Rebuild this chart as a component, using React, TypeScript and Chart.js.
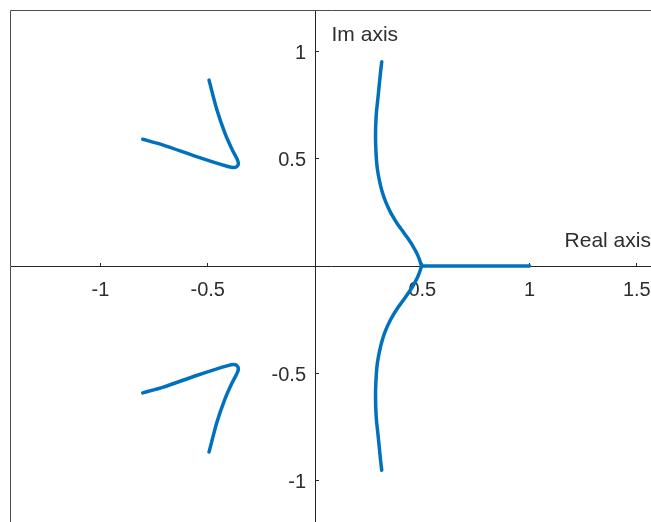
import { useEffect, useRef } from "react";
import { Chart, registerables } from "chart.js";

Chart.register(...registerables);

// Tick values shown on the axes (zero is left unlabeled)
const X_TICKS = [-1, -0.5, 0.5, 1, 1.5];
const Y_TICKS = [-1, -0.5, 0.5, 1];

// Visible window of the s-plane
const X_MIN = -1.417;
const X_MAX = 1.566;
const Y_MIN = -1.193;
const Y_MAX = 1.189;

// Branch on the real axis, from the pole at 1 to the break-away point
const realAxisX = [1.0, 0.497];
const realAxisY = [0, 0];

// Branch leaving the break-away point upward
const upperRightX = [0.497, 0.479, 0.452, 0.418, 0.382, 0.352, 0.329, 0.312, 0.3, 0.291, 0.286, 0.282, 0.285, 0.295, 0.305, 0.311];
const upperRightY = [0, 0.05, 0.1, 0.15, 0.2, 0.25, 0.3, 0.35, 0.4, 0.45, 0.5, 0.6, 0.7, 0.8, 0.9, 0.952];

// Branch leaving the break-away point downward
const lowerRightX = [0.497, 0.479, 0.452, 0.418, 0.382, 0.352, 0.329, 0.312, 0.3, 0.291, 0.286, 0.282, 0.285, 0.295, 0.305, 0.311];
const lowerRightY = [0, -0.05, -0.1, -0.15, -0.2, -0.25, -0.3, -0.35, -0.4, -0.45, -0.5, -0.6, -0.7, -0.8, -0.9, -0.952];

// Complex branch in the upper-left quadrant
const upperLeftX = [-0.494, -0.457, -0.42, -0.387, -0.361, -0.358, -0.371, -0.406, -0.552, -0.707, -0.803];
const upperLeftY = [0.867, 0.727, 0.62, 0.545, 0.494, 0.473, 0.46, 0.464, 0.51, 0.564, 0.591];

// Complex branch in the lower-left quadrant
const lowerLeftX = [-0.494, -0.457, -0.42, -0.387, -0.361, -0.358, -0.371, -0.406, -0.552, -0.707, -0.803];
const lowerLeftY = [-0.867, -0.727, -0.62, -0.545, -0.494, -0.473, -0.46, -0.464, -0.51, -0.564, -0.591];

const LOCUS_COLOR = "#0072BD";
const AXIS_COLOR = "#262626";
const TEXT_COLOR = "#2e2e2e";
const FONT_FAMILY = "'Liberation Sans', Arial, Helvetica, sans-serif";

const toPoints = (xs: number[], ys: number[]) => xs.map((x, i) => ({ x, y: ys[i] }));

const branch = (xs: number[], ys: number[], tension: number) => ({
  data: toPoints(xs, ys),
  showLine: true,
  borderColor: LOCUS_COLOR,
  borderWidth: 3.5,
  pointRadius: 0,
  pointHoverRadius: 0,
  tension,
  borderCapStyle: "round" as const,
  borderJoinStyle: "round" as const,
});

// Axes through the origin should not reserve room for their labels
const noEdgePadding = (s: any) => {
  s.paddingLeft = 0;
  s.paddingRight = 0;
  s.paddingTop = 0;
  s.paddingBottom = 0;
};

// Box around the axes and the two axis captions
const decorations = {
  id: "locusDecorations",
  beforeDraw(chart: any) {
    const { ctx, chartArea } = chart;
    ctx.save();
    ctx.strokeStyle = "#4d4d4d";
    ctx.lineWidth = 1;
    ctx.beginPath();
    ctx.moveTo(chartArea.left - 0.5, chartArea.bottom + 2);
    ctx.lineTo(chartArea.left - 0.5, chartArea.top - 0.5);
    ctx.lineTo(chartArea.right + 2, chartArea.top - 0.5);
    ctx.stroke();
    ctx.restore();
  },
  afterDraw(chart: any) {
    const { ctx } = chart;
    const xs = chart.scales.x;
    const ys = chart.scales.y;
    ctx.save();
    ctx.font = `21px ${FONT_FAMILY}`;
    ctx.fillStyle = TEXT_COLOR;
    ctx.textAlign = "left";
    ctx.textBaseline = "alphabetic";
    ctx.fillText("Im axis", xs.getPixelForValue(0.077), ys.getPixelForValue(1.049));
    ctx.fillText("Real axis", xs.getPixelForValue(1.163), ys.getPixelForValue(0.0886));
    ctx.restore();
  },
};

const tickFont = { family: FONT_FAMILY, size: 20 };

export default function App() {
  const canvasRef = useRef<HTMLCanvasElement | null>(null);

  useEffect(() => {
    document.documentElement.style.overflow = "hidden";
    document.body.style.overflow = "hidden";
    const canvas = canvasRef.current;
    if (!canvas) return;

    const chart = new Chart(canvas, {
      type: "scatter",
      data: {
        datasets: [
          branch(realAxisX, realAxisY, 0),
          branch(upperRightX, upperRightY, 0.4),
          branch(lowerRightX, lowerRightY, 0.4),
          branch(upperLeftX, upperLeftY, 0.25),
          branch(lowerLeftX, lowerLeftY, 0.25),
        ],
      },
      options: {
        animation: false,
        responsive: false,
        maintainAspectRatio: false,
        layout: { padding: { left: 11, top: 11, right: 0, bottom: 0 } },
        plugins: {
          legend: { display: false },
          tooltip: { enabled: false },
          title: { display: false },
        },
        scales: {
          x: {
            type: "linear",
            min: X_MIN,
            max: X_MAX,
            position: { y: 0 } as any,
            border: { display: true, color: AXIS_COLOR, width: 1 },
            grid: { display: true, drawOnChartArea: false, drawTicks: true, tickLength: -4, color: AXIS_COLOR },
            ticks: {
              autoSkip: false,
              maxRotation: 0,
              padding: 16,
              color: TEXT_COLOR,
              font: tickFont,
              callback: (v: any) => String(v),
            },
            afterBuildTicks: (s: any) => {
              s.ticks = X_TICKS.map((value) => ({ value }));
            },
            afterFit: noEdgePadding,
          },
          y: {
            type: "linear",
            min: Y_MIN,
            max: Y_MAX,
            position: { x: 0 } as any,
            border: { display: true, color: AXIS_COLOR, width: 1 },
            grid: { display: true, drawOnChartArea: false, drawTicks: true, tickLength: -4, color: AXIS_COLOR },
            ticks: { display: false },
            afterBuildTicks: (s: any) => {
              s.ticks = Y_TICKS.map((value) => ({ value }));
            },
            afterFit: noEdgePadding,
          },
          // Carries the y tick labels, set just left of the imaginary axis
          yLabels: {
            type: "linear",
            axis: "y",
            min: Y_MIN,
            max: Y_MAX,
            position: { x: -0.042 } as any,
            border: { display: false },
            grid: { display: false },
            ticks: {
              autoSkip: false,
              labelOffset: 2,
              color: TEXT_COLOR,
              font: tickFont,
              callback: (v: any) => String(v),
            },
            afterBuildTicks: (s: any) => {
              s.ticks = Y_TICKS.map((value) => ({ value }));
            },
            afterFit: noEdgePadding,
          },
        },
      },
      plugins: [decorations],
    } as any);

    return () => chart.destroy();
  }, []);

  return (
    <div style={{ position: "fixed", left: 0, top: 0, width: 651, height: 522, background: "#fff" }}>
      <canvas ref={canvasRef} width={651} height={522} style={{ display: "block" }} />
    </div>
  );
}
